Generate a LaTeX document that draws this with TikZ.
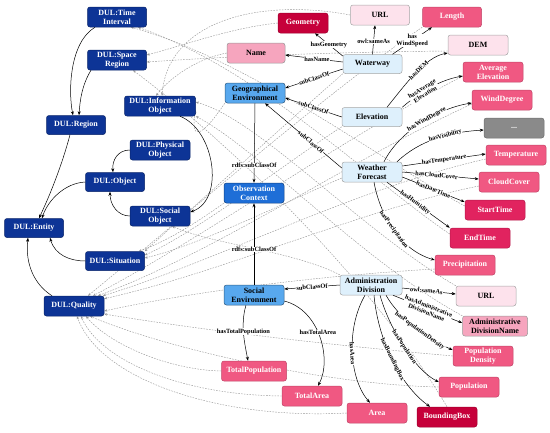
\documentclass[tikz,border=0pt]{standalone}
\usepackage{fontspec}
\setmainfont{Liberation Serif}
\usetikzlibrary{arrows.meta,calc}
\pgfdeclarelayer{bg}
\pgfsetlayers{bg,main}
\definecolor{dulc}{RGB}{13,52,150}
\definecolor{midc}{RGB}{88,168,238}
\definecolor{ctxc}{RGB}{30,110,215}
\definecolor{lbc}{RGB}{222,240,252}
\definecolor{pkc}{RGB}{240,88,130}
\definecolor{dpkc}{RGB}{225,35,95}
\definecolor{crc}{RGB}{198,0,58}
\definecolor{lpkc}{RGB}{246,165,190}
\definecolor{vlpc}{RGB}{253,226,236}
\definecolor{grc}{RGB}{138,138,138}
\tikzset{
  base/.style={rounded corners=2.5pt, minimum width=60pt, minimum height=20pt, align=center,
    font=\fontsize{8}{9}\selectfont\bfseries, inner sep=1pt, line width=0.5pt},
  dul/.style={base, fill=dulc, draw=dulc!70!black, text=white},
  midn/.style={base, fill=midc, draw=midc!55!black, text=black},
  ctxn/.style={base, fill=ctxc, draw=ctxc!60!black, text=white},
  lbn/.style={base, fill=lbc, draw=gray!70, text=black},
  pkn/.style={base, fill=pkc, draw=pkc!80!black, text=white},
  dpkn/.style={base, fill=dpkc, draw=dpkc!80!black, text=white},
  crn/.style={base, fill=crc, draw=crc!80!black, text=white},
  lpkn/.style={base, fill=lpkc, draw=gray!80, text=black},
  vlpn/.style={base, fill=vlpc, draw=gray!70, text=black},
  grn/.style={base, fill=grc, draw=grc!80!black, text=white},
  rel/.style={-{Stealth[length=4pt,width=3pt]}, line width=0.5pt, black},
  lab/.style={font=\fontsize{6.4}{6.6}\selectfont\bfseries, fill=white, inner sep=0.3pt, text=black, align=center},
  dsh/.style={-{Stealth[length=3pt,width=2.4pt]}, line width=0.45pt, gray!80, dash pattern=on 1.6pt off 1.2pt}
}
\begin{document}
\begin{tikzpicture}[x=1pt,y=-1pt]
\useasboundingbox (0,0) rectangle (550,432);
% DUL nodes
\node[dul, minimum width=59pt] (ti) at (117,17) {DUL:Time\\Interval};
\node[dul, minimum width=59pt] (sr) at (117,60) {DUL:Space\\Region};
\node[dul, minimum width=59pt, minimum height=19pt] (reg) at (76,125) {DUL:Region};
\node[dul, minimum width=71pt] (io) at (160,106) {DUL:Information\\Object};
\node[dul] (po) at (160,150) {DUL:Physical\\Object};
\node[dul, minimum width=59pt, minimum height=19pt] (obj) at (115,182) {DUL:Object};
\node[dul] (so) at (160,216) {DUL:Social\\Object};
\node[dul, minimum width=59pt, minimum height=19pt] (ent) at (34,228) {DUL:Entity};
\node[dul, minimum width=59pt, minimum height=19pt] (sit) at (115,261) {DUL:Situation};
\node[dul] (qual) at (74,306) {DUL:Quality};
% middle
\node[midn] (ge) at (255,93) {Geographical\\Environment};
\node[ctxn] (ctx) at (254,193) {Observation\\Context};
\node[midn] (se) at (254,295) {Social\\Environment};
% light blue
\node[lbn, minimum width=59pt, minimum height=19pt] (ww) at (372.5,64) {Waterway};
\node[lbn, minimum height=19pt] (el) at (372,117) {Elevation};
\node[lbn] (wf) at (372,172) {Weather\\Forecast};
\node[lbn, minimum width=62pt] (ad) at (371,285) {Administration\\Division};
% leaves
\node[crn, minimum width=50pt] (geo) at (303,23) {Geometry};
\node[vlpn, minimum width=59pt] (url1) at (380,15) {URL};
\node[pkn, minimum width=59pt] (len) at (452,17) {Length};
\node[lpkn, minimum width=58pt] (name) at (256,53) {Name};
\node[vlpn] (dem) at (478,45) {DEM};
\node[pkn] (avg) at (493,72) {Average\\Elevation};
\node[pkn] (wd) at (502,100) {WindDegree};
\node[grn] (dots) at (514,128) {...};
\node[pkn] (temp) at (516,155) {Temperature};
\node[pkn] (cc) at (509,182) {CloudCover};
\node[dpkn] (st) at (495,210) {StartTime};
\node[dpkn] (et) at (480,238) {EndTime};
\node[pkn] (pr) at (465,265) {Precipitation};
\node[vlpn] (url2) at (486,296) {URL};
\node[lpkn, minimum width=65pt] (adn) at (495,326) {Administrative\\DivisionName};
\node[pkn] (pd) at (483,356) {Population\\Density};
\node[pkn] (pop) at (469,387) {Population};
\node[crn] (bb) at (447,417) {BoundingBox};
\node[pkn] (area) at (377,413) {Area};
\node[pkn] (ta) at (312,396) {TotalArea};
\node[pkn, minimum width=65pt] (tp) at (254,371) {TotalPopulation};

% dashed links (background)
\begin{pgfonlayer}{bg}
% to Quality
\draw[dsh] (len.south west) .. controls (330,90) and (180,220) .. ([xshift=14pt]qual.north);
\draw[dsh] ([yshift=-4pt]avg.west) .. controls (340,140) and (200,240) .. ([xshift=19pt]qual.north);
\draw[dsh] ([yshift=-4pt]wd.west) .. controls (350,160) and (220,250) .. ([xshift=24pt]qual.north);
\draw[dsh] ([yshift=-4pt]temp.west) .. controls (350,190) and (220,260) .. ([xshift=29pt]qual.north);
\draw[dsh] ([yshift=-4pt]cc.west) .. controls (360,210) and (230,270) .. ([yshift=-3pt]qual.north east);
\draw[dsh] ([yshift=-4pt]pr.west) .. controls (330,275) and (200,290) .. ([yshift=-5pt]qual.east);
\draw[dsh] (pd.west) .. controls (330,345) and (200,330) .. ([yshift=-8pt]qual.east);
\draw[dsh] (pop.west) .. controls (330,385) and (170,350) .. ([xshift=16pt]qual.south);
\draw[dsh] (tp.west) .. controls (170,370) and (110,345) .. ([xshift=12pt]qual.south);
\draw[dsh] (ta.west) .. controls (180,395) and (100,360) .. ([xshift=7pt]qual.south);
\draw[dsh] (area.west) .. controls (220,420) and (100,380) .. ([xshift=3pt]qual.south);
% to Time Interval
\draw[dsh] ([yshift=4pt]st.west) .. controls (380,160) and (250,60) .. ([xshift=14pt]ti.south);
\draw[dsh] ([yshift=4pt]et.west) .. controls (370,180) and (260,70) .. ([xshift=21pt]ti.south);
% to Space Region
\draw[dsh] (geo.west) .. controls (230,28) and (185,45) .. ([yshift=5pt]sr.east);
\draw[dsh] ([yshift=-6pt]dem.west) .. controls (350,52) and (250,55) .. ([yshift=-2pt]sr.east);
\draw[dsh] (bb.north) .. controls (360,260) and (200,120) .. ([xshift=16pt]sr.south);
% to Information Object
\draw[dsh] (url1.west) .. controls (260,-2) and (168,20) .. ([xshift=2pt]io.north);
\draw[dsh] (name.west) .. controls (200,58) and (172,75) .. ([xshift=-4pt]io.north);
\draw[dsh] (url2.north west) .. controls (360,230) and (260,120) .. ([yshift=4pt]io.east);
\draw[dsh] (adn.north west) .. controls (360,260) and (260,150) .. (io.south east);
% to Social Object
\draw[dsh] (ad.north west) .. controls (290,250) and (215,245) .. ([xshift=12pt]so.south);
% to Situation
\draw[dsh] (ww.south west) .. controls (290,120) and (190,210) .. (sit.north east);
\draw[dsh] (el.south west) .. controls (290,160) and (200,230) .. ([yshift=-4pt]sit.north east);
\draw[dsh] ([yshift=-6pt]wf.west) .. controls (290,200) and (200,245) .. ([yshift=3pt]sit.east);
\draw[dsh] (ctx.south west) .. controls (200,220) and (170,240) .. ([xshift=-6pt]sit.north east);
\draw[dsh] (ge.south west) .. controls (200,140) and (190,140) .. ([yshift=-4pt]io.east);
\end{pgfonlayer}

% DUL solid links
\draw[rel] ([xshift=-22pt]ti.south) .. controls (70,42) and (68,90) .. ([xshift=-3pt]reg.north);
\draw[rel] ([xshift=-26pt]sr.south) .. controls (82,85) and (80,100) .. ([xshift=3pt]reg.north);
\draw[rel] ([xshift=-6pt]reg.south) .. controls (62,165) and (50,195) .. ([xshift=5pt]ent.north);
\draw[rel] (obj.west) .. controls (65,183) and (48,200) .. ([xshift=8pt]ent.north);
\draw[rel] (po.west) .. controls (118,150) and (112,160) .. ([xshift=-2pt]obj.north);
\draw[rel] (so.west) .. controls (118,216) and (110,205) .. ([xshift=-5pt]obj.south);
\draw[rel] (sit.west) .. controls (70,261) and (55,255) .. ([xshift=16pt]ent.south);
\draw[rel] ([xshift=-22pt]qual.north) .. controls (35,285) and (25,265) .. ([xshift=-6pt]ent.south);
\draw[rel] ([xshift=20pt]io.south) .. controls (215,130) and (225,200) .. ([yshift=4pt]so.east);

% middle links
\draw[rel] (ge.south) -- node[lab,pos=0.78]{rdfs:subClassOf} (ctx.north);
\draw[rel] (se.north) -- node[lab,pos=0.43]{rdfs:subClassOf} (ctx.south);
\draw[rel] ([yshift=-5pt]ww.west) -- node[lab,sloped]{subClassOf} ([yshift=5pt]ge.east);
\draw[rel] (el.west) -- node[lab,sloped]{subClassOf} ([yshift=-5pt]ge.east);
\draw[rel] ([yshift=4pt]wf.west) -- node[lab,sloped,pos=0.4]{subClassOf} ([xshift=10pt]ge.south);
\draw[rel] (ad.west) -- node[lab,sloped]{subClassOf} ([yshift=6pt]se.east);
% waterway
\draw[rel] ([yshift=2pt]ww.west) -- node[lab,pos=0.45]{hasName} ([yshift=-2pt]name.east);
\draw[rel] ([yshift=8pt]ww.west) -- node[lab]{hasGeometry} ([xshift=12pt]geo.south);
\draw[rel] (ww.north) -- node[lab,pos=0.45]{owl:sameAs} ([xshift=-5pt]url1.south);
\draw[rel] ([xshift=20pt]ww.north) -- node[lab]{has\\WindSpeed} ([xshift=-20pt]len.south);
% elevation
\draw[rel] ([xshift=15pt]el.north) .. controls (405,85) and (425,57) .. ([yshift=-8pt]dem.west) node[lab,sloped,pos=0.55]{hasDEM};
\draw[rel] (el.north east) .. controls (420,92) and (440,80) .. ([yshift=-4pt]avg.west) node[lab,sloped,pos=0.38]{hasAverage\\Elevation};
% weather forecast
\draw[rel] ([xshift=12pt]wf.north) .. controls (400,130) and (440,108) .. ([yshift=-3pt]wd.west) node[lab,sloped,pos=0.55]{hasWindDegree};
\draw[rel] ([xshift=25pt]wf.north) .. controls (420,140) and (450,132) .. ([yshift=-2pt]dots.west) node[lab,sloped,pos=0.6]{hasVisibility};
\draw[rel] ([yshift=6pt]wf.east) -- node[lab,sloped,pos=0.5]{hasTemperature} ([yshift=1pt]temp.west);
\draw[rel] (wf.east) -- node[lab,sloped,pos=0.45]{hasCloudCover} ([yshift=3pt]cc.west);
\draw[rel] ([yshift=-5pt]wf.east) -- node[lab,sloped,pos=0.5]{hasDateTime} ([yshift=8pt]st.west);
\draw[rel] ([xshift=15pt]wf.south) -- node[lab,sloped,pos=0.45]{hasHumidity} (et.north west);
\draw[rel] ([xshift=2pt]wf.south) .. controls (380,215) and (400,250) .. ([yshift=5pt]pr.west) node[lab,sloped,pos=0.5]{hasPrecipitation};
% administration division
\draw[rel] ([yshift=-3pt]ad.east) -- node[lab,sloped,pos=0.45]{owl:sameAs} ([yshift=2pt]url2.west);
\draw[rel] ([xshift=22pt]ad.south) -- node[lab,sloped,pos=0.5]{hasAdministrative\\DivisionName} ([yshift=3pt]adn.west);
\draw[rel] ([xshift=15pt]ad.south) .. controls (400,320) and (430,340) .. ([yshift=6pt]pd.west) node[lab,sloped,pos=0.55]{hasPopulationDensity};
\draw[rel] ([xshift=9pt]ad.south) .. controls (390,330) and (415,370) .. ([yshift=5pt]pop.west) node[lab,sloped,pos=0.5]{hasPopulation};
\draw[rel] ([xshift=3pt]ad.south) .. controls (378,340) and (400,385) .. ([xshift=-17pt]bb.north) node[lab,sloped,pos=0.5]{hasBoundingBox};
\draw[rel] ([xshift=-6pt]ad.south) .. controls (345,330) and (350,380) .. ([xshift=-7pt]area.north) node[lab,sloped,pos=0.5]{hasArea};
% social environment
\draw[rel] ([xshift=-8pt]se.south) .. controls (240,325) and (245,345) .. ([xshift=-6pt]tp.north) node[lab,pos=0.45]{hasTotalPopulation};
\draw[rel] ([yshift=-6pt]se.east) .. controls (320,310) and (332,360) .. ([xshift=6pt]ta.north) node[lab,pos=0.45]{hasTotalArea};
\end{tikzpicture}
\end{document}
